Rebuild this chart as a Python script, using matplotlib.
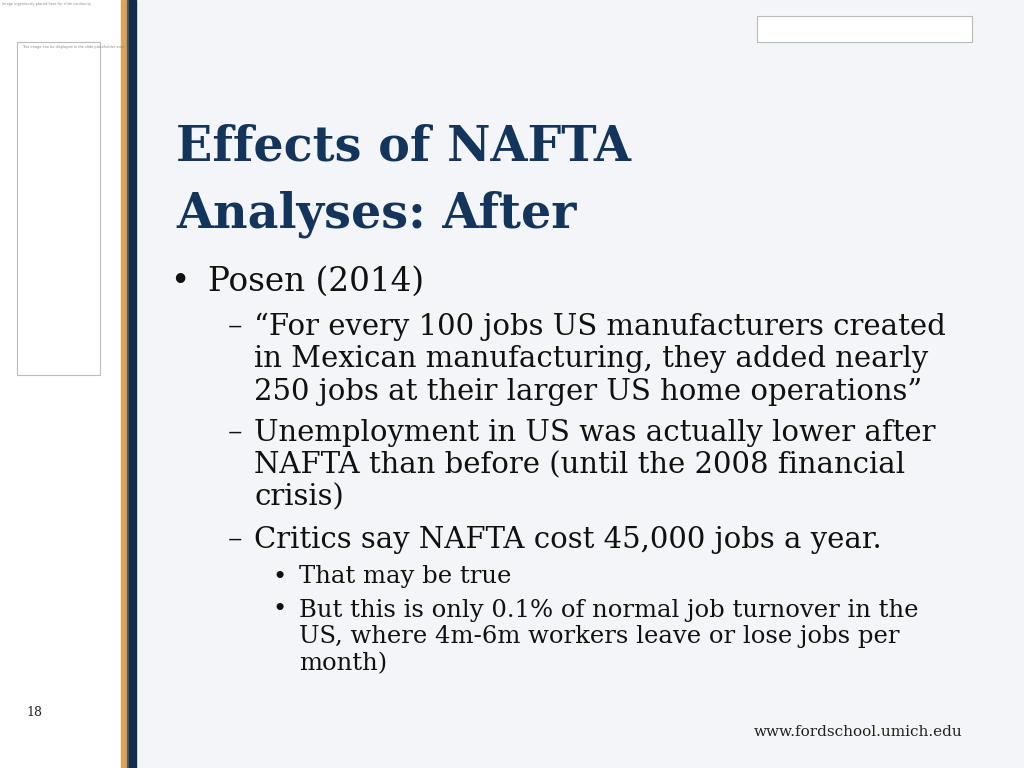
import matplotlib
matplotlib.use("Agg")
import matplotlib.pyplot as plt
from matplotlib.patches import Rectangle

title_lines = ["Effects of NAFTA", "Analyses: After"]
bullets = [
    (0, "•", "Posen (2014)", 282),
    (1, "–", "“For every 100 jobs US manufacturers created", 327),
    (1, "", "in Mexican manufacturing, they added nearly", 359),
    (1, "", "250 jobs at their larger US home operations”", 392),
    (1, "–", "Unemployment in US was actually lower after", 433),
    (1, "", "NAFTA than before (until the 2008 financial", 465),
    (1, "", "crisis)", 497),
    (1, "–", "Critics say NAFTA cost 45,000 jobs a year.", 540),
    (2, "•", "That may be true", 577),
    (2, "•", "But this is only 0.1% of normal job turnover in the", 610),
    (2, "", "US, where 4m-6m workers leave or lose jobs per", 637),
    (2, "", "month)", 664),
]
page_number = "18"
footer = "www.fordschool.umich.edu"

W, H = 1024, 768
fig = plt.figure(figsize=(W/100, H/100), dpi=100)
ax = fig.add_axes([0, 0, 1, 1])
ax.set_xlim(0, W); ax.set_ylim(H, 0); ax.axis("off")
ax.add_patch(Rectangle((136, 0), W-136, H, color="#f3f5f9", zorder=0))
ax.add_patch(Rectangle((121, 0), 6, H, color="#d9a55a", zorder=1))
ax.add_patch(Rectangle((127, 0), 1.5, H, color="#5a5a5a", zorder=1))
ax.add_patch(Rectangle((128.5, 0), 7.5, H, color="#0f2d4d", zorder=1))
ax.add_patch(Rectangle((17, 42), 83, 333, fill=False, ec="#bbbbbb", lw=0.8))
ax.add_patch(Rectangle((757, 16), 215, 26, facecolor="white", ec="#bbbbbb", lw=0.8))
ax.text(2, 2, "Image ingeniously placed here for slide continuity", fontsize=2.5, color="#888", va="top")
ax.text(22, 45, "This image can be displayed in the slide placeholder area", fontsize=2.5, color="#888", va="top")

serif = "DejaVu Serif"
navy = "#14355b"
ax.text(176, 147, title_lines[0], fontsize=34.3, fontweight="bold", family=serif, color=navy, va="center")
ax.text(176, 214, title_lines[1], fontsize=34.3, fontweight="bold", family=serif, color=navy, va="center")

cfg = {0: (170, 208, 23.5), 1: (228, 254, 21), 2: (272, 299, 17.5)}
for lvl, mark, txt, y in bullets:
    mx, tx, fs = cfg[lvl]
    if mark:
        ax.text(mx, y, mark, fontsize=fs, family=serif, color="#111", va="center")
    ax.text(tx, y, txt, fontsize=fs, family=serif, color="#111", va="center")

ax.text(34, 712, page_number, fontsize=9, family=serif, color="#222", ha="center", va="center")
ax.text(962, 732, footer, fontsize=11, family=serif, color="#222", ha="right", va="center")
fig.savefig("out.png", dpi=100)
